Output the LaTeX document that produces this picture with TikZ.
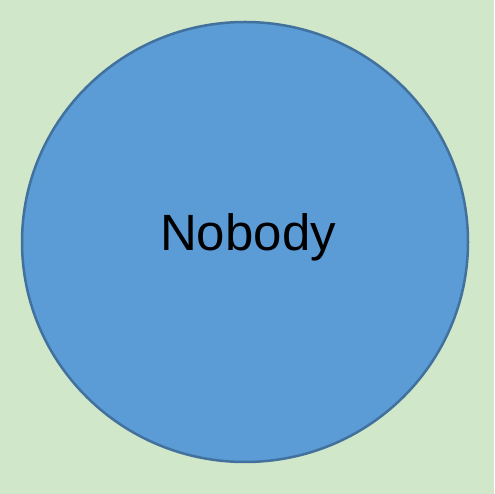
\documentclass[tikz,border=0pt]{standalone}
\usepackage{fontspec}
\setmainfont{Liberation Sans}
\usetikzlibrary{shapes.geometric}
\definecolor{bggreen}{HTML}{D0E7CA}
\definecolor{circblue}{HTML}{5B9BD6}
\definecolor{circedge}{HTML}{41719C}
\begin{document}
\begin{tikzpicture}[x=1pt,y=1pt,
  bubble/.style={ellipse, draw=circedge, line width=2.5pt, fill=circblue, minimum width=446pt, minimum height=440pt, inner sep=0pt}]
\fill[bggreen] (0,0) rectangle (494,494);
\useasboundingbox (0,0) rectangle (494,494);
\node[bubble] (c) at (245,252) {};
\node[anchor=base, inner sep=0pt, font=\fontsize{51}{60}\selectfont] (t) at (248,243) {Nobody};
\end{tikzpicture}
\end{document}
